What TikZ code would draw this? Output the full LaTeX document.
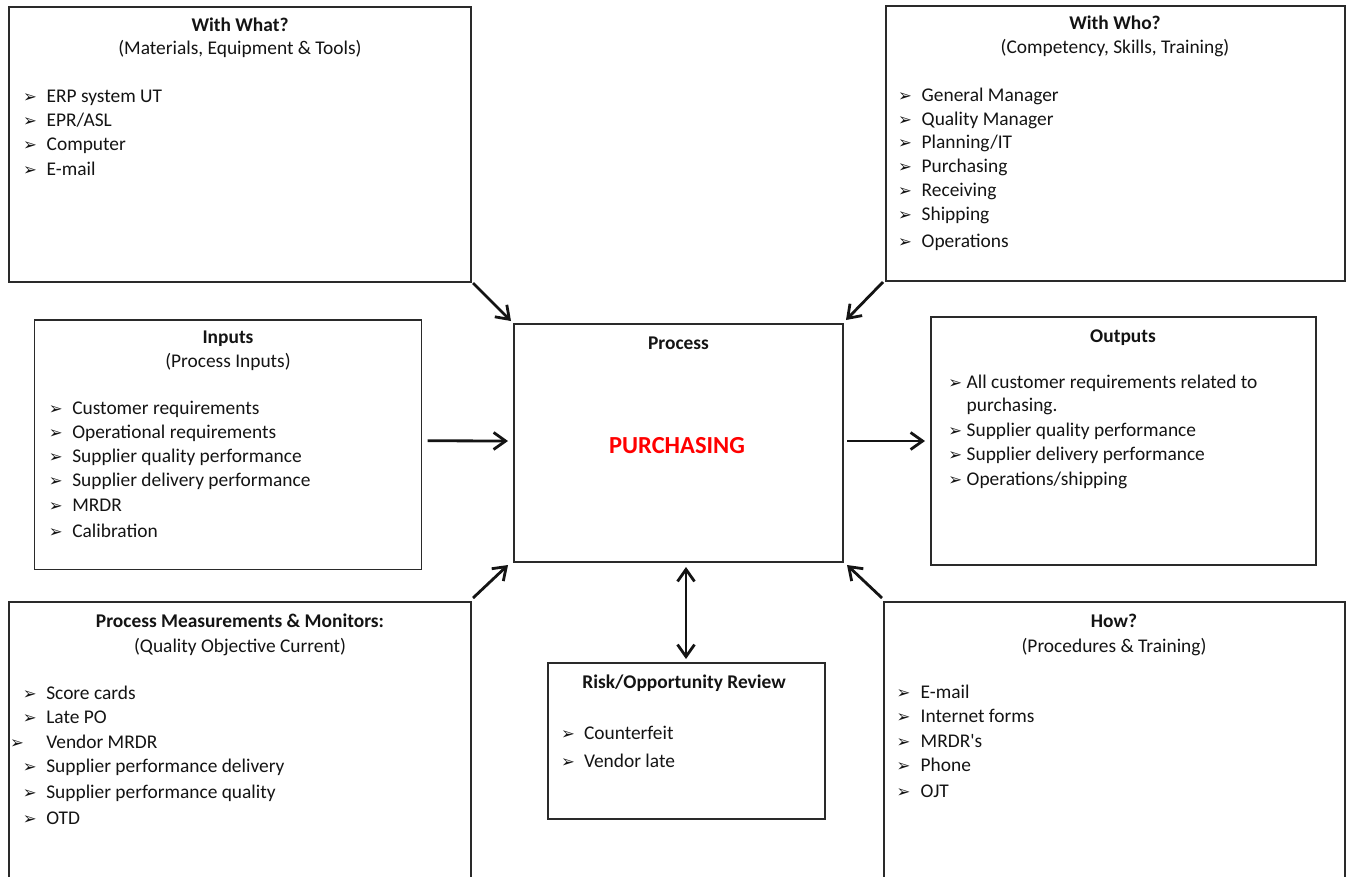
\documentclass[tikz,border=0pt]{standalone}
\usepackage{fontspec}
\setmainfont{Carlito}[Ligatures=TeXOff]
\newfontfamily\bulletfont{DejaVu Sans}
\usetikzlibrary{arrows.meta}

\definecolor{ink}{HTML}{141414}
\definecolor{frame}{HTML}{2A2A2A}
\definecolor{hot}{HTML}{FF0000}

% arrowhead bullet hung to the left of the item text
\newcommand\arrowbullet{{\bulletfont\fontsize{16.5}{16.5}\selectfont ➢}}
\newcommand\bitem[2][23.5pt]{\llap{\makebox[#1][l]{\arrowbullet}}#2}

\begin{document}
\begin{tikzpicture}[x=1pt,y=-1pt,
  every node/.style={font=\fontsize{19.4}{24}\selectfont, text=ink, inner sep=0pt, outer sep=0pt},
  box/.style={draw=frame, line width=1.6pt, rectangle, anchor=north west},
  heading/.style={anchor=base, font=\fontsize{19.4}{24}\selectfont\bfseries},
  subheading/.style={anchor=base},
  item/.style={anchor=base west},
  barb/.tip={Straight Barb[length=12pt,width=17pt]},
  arr/.style={draw=ink, line width=2.8pt, -barb},
  dblarr/.style={draw=ink, line width=2.8pt, barb-barb}
]
\useasboundingbox (0,0) rectangle (1346,876);
\fill[white] (0,0) rectangle (1346,876);
\clip (0,0) rectangle (1346,876);

% ---- frames ----
\node[box, minimum width=462pt, minimum height=275pt] (what) at (9,7) {};
\node[box, minimum width=459pt, minimum height=275pt] (who) at (886,6) {};
\node[box, minimum width=387pt, minimum height=249.5pt] (inp) at (34.5,320) {};
\node[box, minimum width=329pt, minimum height=238pt] (proc) at (514,324) {};
\node[box, minimum width=385pt, minimum height=248pt] (out) at (931,317) {};
\node[box, minimum width=462pt, minimum height=300pt] (pmm) at (9,602) {};
\node[box, minimum width=461pt, minimum height=300pt] (how) at (884,602) {};
\node[box, minimum width=277pt, minimum height=156pt] (risk) at (548,663) {};

% ---- With What? ----
\node[heading] (what-t) at (240,31) {With What?};
\node[subheading] (what-s) at (240,54) {(Materials, Equipment \& Tools)};
\foreach \y/\t [count=\i] in {102/ERP system UT, 126/{EPR/ASL}, 150/Computer, 175/E-mail}
  \node[item] (what-\i) at (46.7,\y) {\bitem{\t}};

% ---- With Who? ----
\node[heading] (who-t) at (1115,29) {With Who?};
\node[subheading] (who-s) at (1115,53) {(Competency, Skills, Training)};
\foreach \y/\t [count=\i] in {101/General Manager, 125/Quality Manager, 148/{Planning/IT},
    172/Purchasing, 196/Receiving, 220/Shipping, 247/Operations}
  \node[item] (who-\i) at (921.7,\y) {\bitem{\t}};

% ---- Inputs ----
\node[heading] (inp-t) at (228,343) {Inputs};
\node[subheading] (inp-s) at (228,367) {(Process Inputs)};
\foreach \y/\t [count=\i] in {414/Customer requirements, 438/Operational requirements,
    462/Supplier quality performance, 486/Supplier delivery performance, 511/MRDR, 537/Calibration}
  \node[item] (inp-\i) at (72.3,\y) {\bitem{\t}};

% ---- Process ----
\node[heading] (proc-t) at (678.5,349) {Process};
\node[anchor=base, text=hot, font=\fontsize{24.5}{28}\selectfont\bfseries] (proc-n) at (677,453) {PURCHASING};

% ---- Outputs ----
\node[heading] (out-t) at (1123,342) {Outputs};
\node[item] (out-1) at (966.7,388) {\bitem[18.4pt]{All customer requirements related to}};
\node[item] (out-1b) at (966.7,411) {purchasing.};
\node[item] (out-2) at (966.7,436) {\bitem[18.4pt]{Supplier quality performance}};
\node[item] (out-3) at (966.7,460) {\bitem[18.4pt]{Supplier delivery performance}};
\node[item] (out-4) at (966.7,485) {\bitem[18.4pt]{Operations/shipping}};

% ---- Process Measurements & Monitors ----
\node[heading] (pmm-t) at (240,627) {Process Measurements \& Monitors:};
\node[subheading] (pmm-s) at (240,652) {(Quality Objective Current)};
\node[item] (pmm-1) at (46.3,699) {\bitem{Score cards}};
\node[item] (pmm-2) at (46.3,723) {\bitem{Late PO}};
\node[item] (pmm-3) at (46.3,748) {\bitem[36.3pt]{Vendor MRDR}};
\node[item] (pmm-4) at (46.3,772) {\bitem{Supplier performance delivery}};
\node[item] (pmm-5) at (46.3,798) {\bitem{Supplier performance quality}};
\node[item] (pmm-6) at (46.3,824) {\bitem{OTD}};

% ---- How? ----
\node[heading] (how-t) at (1114,627) {How?};
\node[subheading] (how-s) at (1114,652) {(Procedures \& Training)};
\foreach \y/\t [count=\i] in {698/E-mail, 722/Internet forms, 747/MRDR's, 771/Phone, 797/OJT}
  \node[item] (how-\i) at (920.7,\y) {\bitem[24pt]{\t}};

% ---- Risk/Opportunity Review ----
\node[heading] (risk-t) at (684,688) {Risk/Opportunity Review};
\node[item] (risk-1) at (584,739) {\bitem[23pt]{Counterfeit}};
\node[item] (risk-2) at (584,767) {\bitem[23pt]{Vendor late}};

% ---- connectors ----
\draw[arr] ([shift={(2,1)}]what.south east) -- ([shift={(-3,-3)}]proc.north west);
\draw[arr] ([shift={(-3,1)}]who.south west) -- ([shift={(3,-4)}]proc.north east);
\draw[arr] ([shift={(6,-4)}]inp.east) -- ([shift={(-6,-2)}]proc.west);
\draw[arr] ([shift={(4,-2)}]proc.east) -- ([shift={(-6,0)}]out.west);
\draw[arr] ([shift={(2,-4)}]pmm.north east) -- ([shift={(-6,3)}]proc.south west);
\draw[arr] ([shift={(-2,-4)}]how.north west) -- ([shift={(4,3)}]proc.south east);
\draw[dblarr] ([shift={(7.5,5)}]proc.south) -- ([shift={(-0.5,-4)}]risk.north);
\end{tikzpicture}
\end{document}
